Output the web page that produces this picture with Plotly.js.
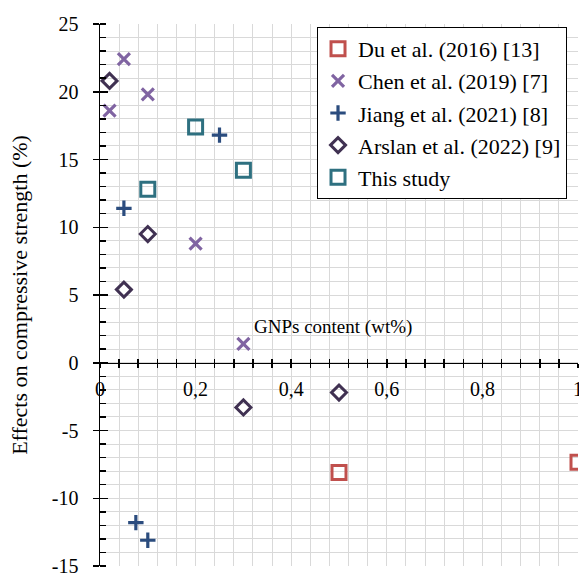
<!DOCTYPE html>
<html><head><meta charset="utf-8">
<script src="https://cdn.plot.ly/plotly-3.0.1.min.js"></script>
<style>html,body{margin:0;padding:0;background:#fff;}#chart{width:579px;height:574px;}</style>
</head><body><div id="chart"></div>
<script>
const seriesNames = ["Du et al. (2016) [13]", "Chen et al. (2019) [7]", "Jiang et al. (2021) [8]", "Arslan et al. (2022) [9]", "This study"];
const duX = [0.5, 1.0];
const duY = [-8.1, -7.35];
const chenX = [0.02, 0.05, 0.1, 0.2, 0.3];
const chenY = [18.6, 22.4, 19.8, 8.8, 1.4];
const jiangX = [0.05, 0.25, 0.075, 0.1];
const jiangY = [11.4, 16.8, -11.8, -13.1];
const arslanX = [0.02, 0.05, 0.1, 0.3, 0.5];
const arslanY = [20.8, 5.4, 9.5, -3.3, -2.2];
const thisX = [0.1, 0.2, 0.3];
const thisY = [12.8, 17.4, 14.2];
const yTickVals = [-15, -10, -5, 0, 5, 10, 15, 20, 25];
const yTickText = ["-15", "-10", "-5", "0", "5", "10", "15", "20", "25"];
const xTickVals = [0, 0.2, 0.4, 0.6, 0.8, 1];
const xTickText = ["0", "0,2", "0,4", "0,6", "0,8", "1"];
const xTitle = "GNPs content (wt%)";
const yTitle = "Effects on compressive strength (%)";

const FONT = "Liberation Serif";
const GRID = "#d9d9d9";

function tr(x, y, name, symbol, size, color, lw, i, xa, ya) {
  return {
    type: "scatter", mode: "markers", x: x, y: y, name: name,
    legendgroup: "g" + i, xaxis: xa || "x", yaxis: ya || "y",
    marker: { symbol: symbol, size: size, color: color, line: { color: color, width: lw } },
    hoverinfo: "x+y+name"
  };
}

const data = [
  tr(duX, duY, seriesNames[0], "square-open", 14, "#c0504d", 3, 0),
  tr(chenX, chenY, seriesNames[1], "x-thin-open", 12, "#8064a2", 3.2, 1),
  tr(jiangX, jiangY, seriesNames[2], "cross-thin-open", 11, "#2b4c7e", 3.2, 2),
  tr(arslanX, arslanY, seriesNames[3], "diamond-open", 11.5, "#403152", 3, 3),
  tr(thisX, thisY, seriesNames[4], "square-open", 14, "#2e7080", 3, 4, "x2", "y2")
];

const layout = {
  width: 579, height: 574,
  margin: { l: 100, r: 1, t: 24, b: 8, pad: 0 },
  paper_bgcolor: "#ffffff", plot_bgcolor: "#ffffff",
  font: { family: FONT, color: "#000000", size: 20 },
  showlegend: true,
  legend: {
    x: 0.454, y: 0.9945, xanchor: "left", yanchor: "top",
    bgcolor: "#ffffff", bordercolor: "#000000", borderwidth: 1,
    font: { family: FONT, size: 22, color: "#000000" },
    tracegroupgap: 0.5, itemwidth: 30
  },
  xaxis: {
    range: [0, 1], anchor: "free", position: 0.375,
    showline: true, linecolor: "#000000", linewidth: 1.5,
    tickmode: "array", tickvals: xTickVals, ticktext: xTickText,
    ticks: "outside", ticklen: 4, tickwidth: 1.5, tickcolor: "#000000",
    tickfont: { family: FONT, size: 20, color: "#000000" },
    ticklabelstandoff: 4, ticklabeloverflow: "allow",
    showgrid: true, gridcolor: GRID, gridwidth: 1, zeroline: false,
    minor: { tickmode: "linear", tick0: 0, dtick: 0.04, ticks: "outside", ticklen: 4, tickwidth: 1.5, tickcolor: "#000000", showgrid: true, gridcolor: GRID, gridwidth: 1 },
    fixedrange: true
  },
  xaxis2: {
    range: [0, 1], overlaying: "x", anchor: "free", position: 0.375,
    showline: false, tickmode: "linear", tick0: 0, dtick: 0.04,
    ticks: "inside", ticklen: 4, tickwidth: 1.5, tickcolor: "#000000",
    showticklabels: false, showgrid: false, zeroline: false, fixedrange: true
  },
  yaxis: {
    range: [-15, 25], anchor: "x",
    showline: true, linecolor: "#000000", linewidth: 1.5,
    tickmode: "array", tickvals: yTickVals, ticktext: yTickText,
    ticks: "outside", ticklen: 6, tickwidth: 1.5, tickcolor: "#000000",
    tickfont: { family: FONT, size: 20, color: "#000000" },
    ticklabelstandoff: 10, ticklabeloverflow: "allow",
    showgrid: true, gridcolor: GRID, gridwidth: 1, zeroline: false,
    minor: { tickmode: "linear", tick0: 0, dtick: 1, ticks: "inside", ticklen: 6, tickwidth: 1.5, tickcolor: "#000000", showgrid: true, gridcolor: GRID, gridwidth: 1 },
    title: { text: yTitle, font: { family: FONT, size: 22, color: "#000000" }, standoff: 18 },
    fixedrange: true
  },
  yaxis2: {
    range: [-15, 25], overlaying: "y", anchor: "free", position: 0, side: "left",
    showline: false, tickmode: "linear", tick0: 0, dtick: 5,
    ticks: "inside", ticklen: 7, tickwidth: 1.5, tickcolor: "#000000",
    showticklabels: false, showgrid: false, zeroline: false, fixedrange: true
  },
  annotations: [{
    x: 0.487, y: 2.65, xref: "x", yref: "y", text: xTitle, showarrow: false,
    xanchor: "center", yanchor: "middle",
    font: { family: FONT, size: 19, color: "#000000" }
  }]
};

Plotly.newPlot("chart", data, layout, { displayModeBar: false, staticPlot: true });
</script>
</body></html>
